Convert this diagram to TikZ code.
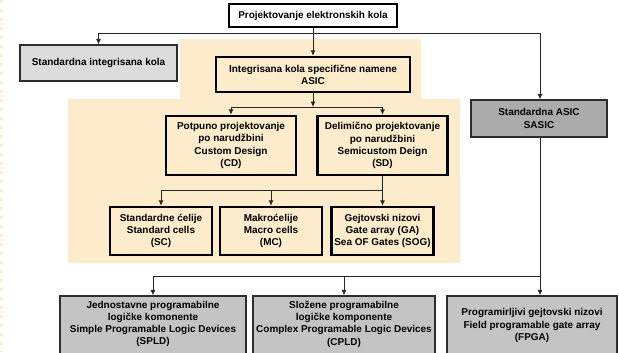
\documentclass[tikz,border=0pt]{standalone}
\usepackage{fontspec}
\setmainfont{Liberation Sans}
\usetikzlibrary{arrows.meta,fit}
\definecolor{cream}{RGB}{252,236,204}
\definecolor{lightgray}{RGB}{220,220,220}
\definecolor{midgray}{RGB}{171,171,171}
\definecolor{boxgray}{RGB}{196,196,196}
\definecolor{edgeline}{RGB}{45,45,45}
\tikzset{
  x=1bp, y=-1bp,
  lbl/.style={font=\bfseries\fontsize{10}{12.3}\selectfont, align=center, text=black},
  heavybox/.style={lbl, draw=black, line width=2.4bp, fill=cream, inner sep=0pt},
  whitebox/.style={lbl, draw=black, line width=2bp, fill=white, inner sep=0pt},
  graybox/.style={lbl, draw=edgeline, line width=1.2bp, inner sep=0pt},
  link/.style={draw=black!85, line width=0.9bp},
  arrowlink/.style={link, -{Latex[length=5.5bp,width=5bp]}},
}
\begin{document}
\begin{tikzpicture}
\useasboundingbox (0,0) rectangle (619,352);
\fill[white] (0,0) rectangle (619,352);
% faint edge strip on the left
\draw[cream, line width=3bp, dash pattern=on 3bp off 6bp] (1.5,0) -- (1.5,352);

% cream panel holding the ASIC family
\fill[cream] (180,39) -- (421,39) -- (421,99) -- (460,99) -- (460,263)
  -- (68,263) -- (68,99) -- (180,99) -- cycle;

% top level
\node[whitebox, minimum width=168bp, minimum height=23bp] (top) at (313,15.5)
  {Projektovanje elektronskih kola};
\node[graybox, fill=lightgray, minimum width=157bp, minimum height=36bp] (sik) at (98.5,63)
  {Standardna integrisana kola};
\node[heavybox, minimum width=194bp, minimum height=35bp] (asic) at (313,74.5)
  {Integrisana kola specifične namene\\ASIC};
\node[graybox, fill=midgray, minimum width=136bp, minimum height=37bp] (sasic) at (539,118.5)
  {Standardna ASIC\\SASIC};

% custom / semicustom
\node[heavybox, minimum width=130bp, minimum height=59bp] (cd) at (231,145.5)
  {Potpuno projektovanje\\po narudžbini\\Custom Design\\(CD)};
\node[heavybox, minimum width=130bp, minimum height=59bp] (sd) at (382.5,145.5)
  {Delimično projektovanje\\po narudžbini\\Semicustom Deign\\(SD)};

% semicustom styles
\node[heavybox, minimum width=102bp, minimum height=48bp] (sc) at (161,231)
  {Standardne ćelije\\Standard cells\\(SC)};
\node[heavybox, minimum width=102bp, minimum height=48bp] (mc) at (271,231)
  {Makroćelije\\Macro cells\\(MC)};
\node[heavybox, minimum width=102bp, minimum height=48bp] (ga) at (382.5,231)
  {Gejtovski nizovi\\Gate array (GA)\\Sea OF Gates (SOG)};

% programmable devices (boxes run past the lower edge)
\node[graybox, fill=boxgray, fit={(60,296) (246,370)}] (spld) {};
\node[graybox, fill=boxgray, fit={(253,296) (435,370)}] (cpld) {};
\node[graybox, fill=boxgray, fit={(447,296) (617,370)}] (fpga) {};
\node[lbl] (spldtxt) at (153,324)
  {Jednostavne programabilne\\logičke komonente\\Simple Programable Logic Devices\\(SPLD)};
\node[lbl] (cpldtxt) at (344,324)
  {Složene programabilne\\logičke komponente\\Complex Programable Logic Devices\\(CPLD)};
\node[lbl] (fpgatxt) at (532,325.5)
  {Programirljivi gejtovski nizovi\\Field programable gate array\\(FPGA)};

% junction points
\coordinate (j1) at (313,33.5);
\coordinate (j2) at (313,107);
\coordinate (j3) at (382.5,190.5);
\coordinate (j4) at (540,276);

% connectors
\draw[arrowlink] (top.south) -- (asic.north);
\draw[arrowlink] (j1) -| (sik.north);
\draw[arrowlink] (j1) -| ([xshift=1bp]sasic.north);

\draw[arrowlink] (asic.south) -- (j2);
\draw[arrowlink] (j2) -| (cd.north);
\draw[arrowlink] (j2) -| (sd.north);

\draw[link] (sd.south) -- (j3);
\draw[arrowlink] (j3) -| (sc.north);
\draw[arrowlink] (j3) -| (mc.north);
\draw[arrowlink] (j3) -- (ga.north);

\draw[link] ([xshift=1bp]sasic.south) -- (j4);
\draw[arrowlink] (j4) -| (spld.north);
\draw[arrowlink] (j4) -| (cpld.north);
\draw[arrowlink] (j4) -- (fpga.north -| j4);
\end{tikzpicture}
\end{document}
